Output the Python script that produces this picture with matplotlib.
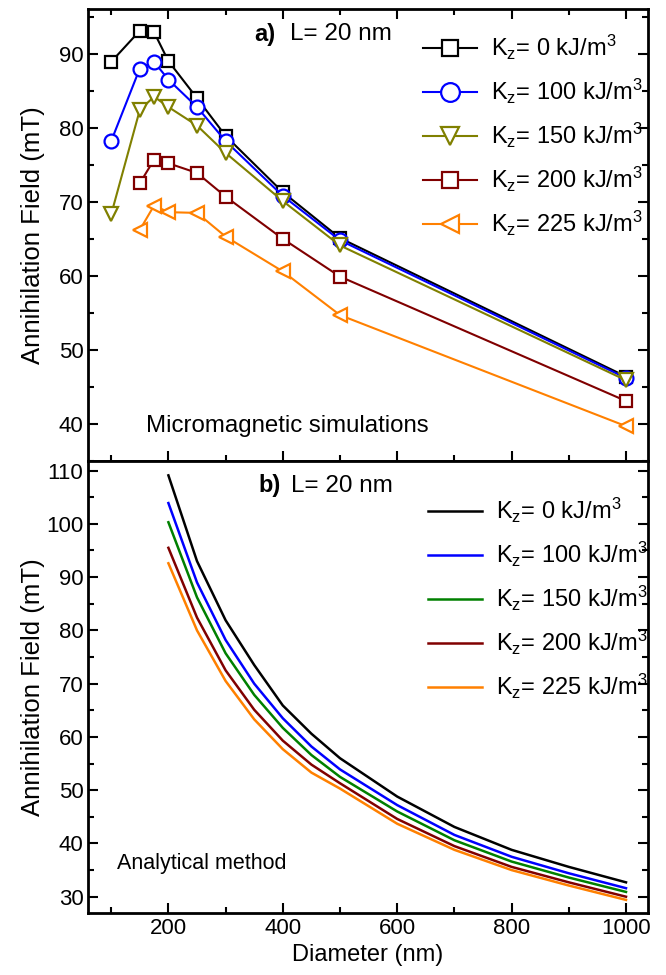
import matplotlib
matplotlib.use("Agg")
import matplotlib.pyplot as plt
from matplotlib.ticker import MultipleLocator

plt.rcParams['font.family'] = ['Liberation Sans', 'DejaVu Sans']
plt.rcParams['mathtext.fontset'] = 'custom'
plt.rcParams['mathtext.rm'] = 'Liberation Sans'
plt.rcParams['mathtext.default'] = 'regular'

# a) micromagnetic simulations
d_sim = [100, 150, 175, 200, 250, 300, 400, 500, 1000]
h_k0 = [88.9, 93.1, 92.9, 89.0, 84.0, 78.9, 71.3, 65.1, 46.4]
h_k100 = [78.2, 88.0, 88.9, 86.5, 82.8, 78.2, 70.8, 64.8, 46.2]
h_k150 = [68.3, 82.4, 84.2, 82.8, 80.3, 76.6, 70.1, 64.1, 45.9]
d_sim2 = [150, 175, 200, 250, 300, 400, 500, 1000]
h_k200 = [72.5, 75.7, 75.2, 73.9, 70.7, 65.0, 59.9, 43.1]
h_k225 = [66.2, 69.5, 68.6, 68.5, 65.3, 60.6, 54.7, 39.7]

# b) analytical method
d_an = [200, 250, 300, 350, 400, 450, 500, 600, 700, 800, 900, 1000]
an_k0 = [109.1, 93.0, 81.9, 73.5, 65.9, 60.6, 56.0, 48.8, 43.1, 38.8, 35.6, 32.7]
an_k100 = [103.9, 89.0, 78.2, 70.0, 63.5, 58.2, 53.9, 47.2, 41.6, 37.5, 34.4, 31.6]
an_k150 = [100.3, 86.2, 75.7, 67.9, 61.7, 56.6, 52.5, 46.0, 40.6, 36.6, 33.6, 30.9]
an_k200 = [95.5, 82.4, 72.5, 65.1, 59.3, 54.8, 51.3, 44.6, 39.5, 35.6, 32.7, 30.0]
an_k225 = [92.6, 80.0, 70.5, 63.3, 57.7, 53.3, 50.3, 43.7, 38.8, 35.0, 32.1, 29.4]

labels = ['K$_z$= 0 kJ/m$^3$', 'K$_z$= 100 kJ/m$^3$', 'K$_z$= 150 kJ/m$^3$',
          'K$_z$= 200 kJ/m$^3$', 'K$_z$= 225 kJ/m$^3$']

fig = plt.figure(figsize=(6.66, 9.75), dpi=100)
ax1 = fig.add_axes([0.1326, 0.5272, 0.840, 0.4633])
ax2 = fig.add_axes([0.1326, 0.0639, 0.840, 0.4633])

mk = dict(mfc='white', mew=1.6, lw=1.5)
ax1.plot(d_sim, h_k0, 's-', color='black', ms=9, label=labels[0], **mk)
ax1.plot(d_sim, h_k100, 'o-', color='#0000ff', ms=10, label=labels[1], **mk)
ax1.plot(d_sim, h_k150, 'v-', color='#808000', ms=10, label=labels[2], **mk)
ax1.plot(d_sim2, h_k200, 's-', color='#800000', ms=9, label=labels[3], **mk)
ax1.plot(d_sim2, h_k225, '<-', color='#ff8000', ms=10, label=labels[4], **mk)

ax2.plot(d_an, an_k0, color='black', lw=1.8, label=labels[0])
ax2.plot(d_an, an_k100, color='#0000ff', lw=1.8, label=labels[1])
ax2.plot(d_an, an_k150, color='#008000', lw=1.8, label=labels[2])
ax2.plot(d_an, an_k200, color='#800000', lw=1.8, label=labels[3])
ax2.plot(d_an, an_k225, color='#ff8000', lw=1.8, label=labels[4])

ax1.set_xlim(60, 1038)
ax2.set_xlim(60, 1038)
ax1.set_ylim(35, 96)
ax2.set_ylim(27, 111.8)

for ax in (ax1, ax2):
    ax.xaxis.set_major_locator(MultipleLocator(200))
    ax.xaxis.set_minor_locator(MultipleLocator(100))
    ax.yaxis.set_major_locator(MultipleLocator(10))
    ax.yaxis.set_minor_locator(MultipleLocator(5))
    for s in ax.spines.values():
        s.set_linewidth(2)
    ax.tick_params(which='both', direction='in', width=1.5, labelsize=16, right=True)
    ax.tick_params(which='major', length=7)
    ax.tick_params(which='minor', length=4)
    ax.set_ylabel('Annihilation Field (mT)', fontsize=18.5)
    ax.yaxis.set_label_coords(-0.0775, 0.5)

ax1.tick_params(which='both', top=True, labelbottom=False)
ax2.tick_params(which='both', top=False)
ax2.set_xlabel('Diameter (nm)', fontsize=17)

ax1.text(0.296, 0.945, 'a)', transform=ax1.transAxes, fontsize=17, fontweight='bold', va='center')
ax1.text(0.361, 0.945, 'L= 20 nm', transform=ax1.transAxes, fontsize=17.5, va='center')
ax1.text(0.103, 0.078, 'Micromagnetic simulations', transform=ax1.transAxes, fontsize=17.3, va='center')

ax2.text(0.304, 0.945, 'b)', transform=ax2.transAxes, fontsize=17, fontweight='bold', va='center')
ax2.text(0.363, 0.945, 'L= 20 nm', transform=ax2.transAxes, fontsize=17.5, va='center')
ax2.text(0.052, 0.11, 'Analytical method', transform=ax2.transAxes, fontsize=15.5, va='center')

leg_kw = dict(frameon=False, fontsize=17, handlelength=2.3, handletextpad=0.58,
              labelspacing=0.63, borderpad=0, borderaxespad=0, loc='upper left')
ax1.legend(bbox_to_anchor=(0.598, 0.947), markerscale=1.35, **leg_kw)
ax2.legend(bbox_to_anchor=(0.607, 0.922), **leg_kw)

fig.savefig('out.png', dpi=100)
